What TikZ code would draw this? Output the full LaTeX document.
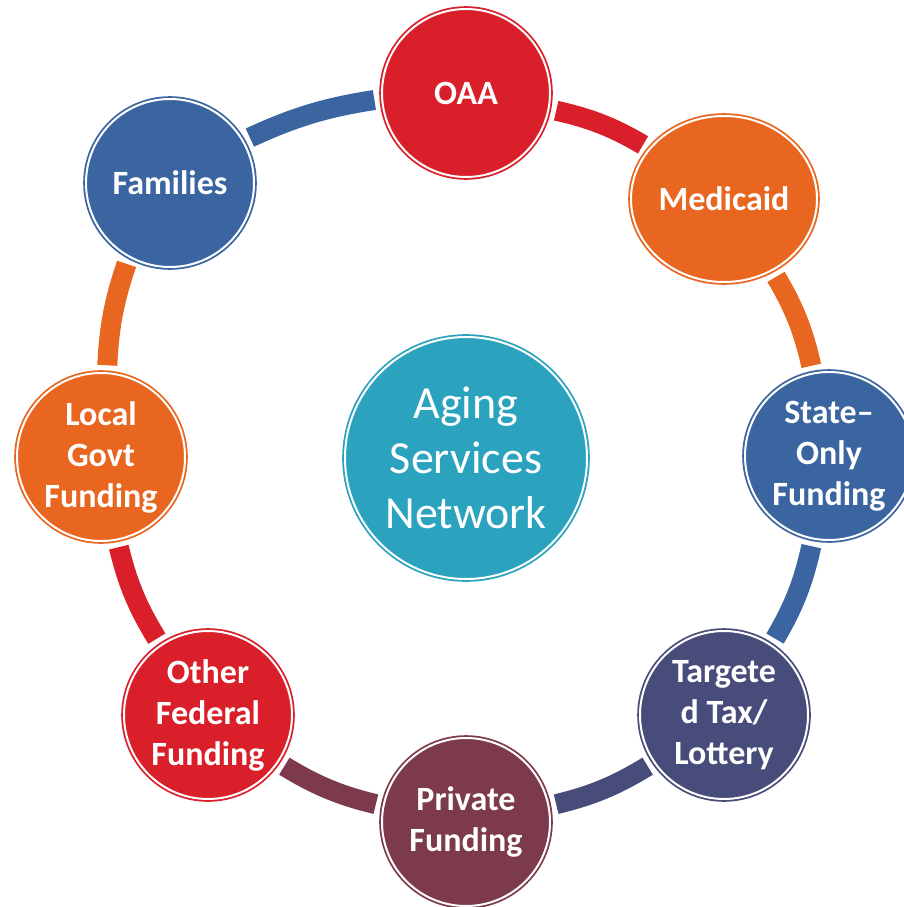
\documentclass[tikz,border=0pt]{standalone}
\usepackage{fontspec}
\setmainfont{Carlito}
\usetikzlibrary{shapes.geometric}

\definecolor{oaared}{RGB}{217,32,42}
\definecolor{medorange}{RGB}{232,102,31}
\definecolor{fundblue}{RGB}{58,101,160}
\definecolor{taxnavy}{RGB}{72,76,122}
\definecolor{privmaroon}{RGB}{125,58,75}
\definecolor{hubteal}{RGB}{43,163,191}

\tikzset{
	ringed/.style={fill=#1, draw=#1, double=white, double distance=2pt, line width=1.8pt, text=white, align=center, inner sep=0pt},
	fund/.style={ringed=#1, circle, minimum size=168pt, font=\fontsize{34}{41}\selectfont\bfseries},
	link/.style={draw=#1, line width=20pt, shorten >=7pt, shorten <=7pt}
}

\begin{document}
\begin{tikzpicture}[x=1pt, y=1pt]
		\useasboundingbox (0,-907) rectangle (903,0);

		\node[ringed=hubteal, circle, minimum size=242pt, font=\fontsize{46}{55}\selectfont] (hub) at (466,-458) {Aging\\Services\\Network};

		\node[fund=oaared]     (oaa)      at (466, -93) {OAA};
		\node[ringed=medorange, ellipse, minimum width=186pt, minimum height=166pt, font=\fontsize{34}{41}\selectfont\bfseries] (medicaid) at (724,-199) {Medicaid};
		\node[fund=fundblue]   (state)    at (829,-456) {State--\\Only\\Funding};
		\node[fund=taxnavy]    (targeted) at (724,-715) {Targete\\d Tax/\\Lottery};
		\node[fund=privmaroon] (private)  at (466,-822) {Private\\Funding};
		\node[fund=oaared]     (otherfed) at (208,-715) {Other\\Federal\\Funding};
		\node[fund=medorange]  (localgov) at (101,-457) {Local\\Govt\\Funding};
		\node[fund=fundblue]   (families) at (170,-183) {Families};

		% ring segments, each in the colour of the node it leaves
		\draw[link=oaared]     (oaa.-11)      to[bend left=9] (medicaid.146);
		\draw[link=medorange]  (medicaid.-56) to[bend left=9] (state.101);
		\draw[link=fundblue]   (state.-101)   to[bend left=9] (targeted.56);
		\draw[link=taxnavy]    (targeted.-146) to[bend left=9] (private.11);
		\draw[link=privmaroon] (private.169)  to[bend left=9] (otherfed.-34);
		\draw[link=oaared]     (otherfed.124) to[bend left=9] (localgov.-79);
		\draw[link=medorange]  (localgov.86)  to[bend left=8] (families.-119);
		\draw[link=fundblue]   (families.30)  to[bend left=8] (oaa.184);
	\end{tikzpicture}
\end{document}
